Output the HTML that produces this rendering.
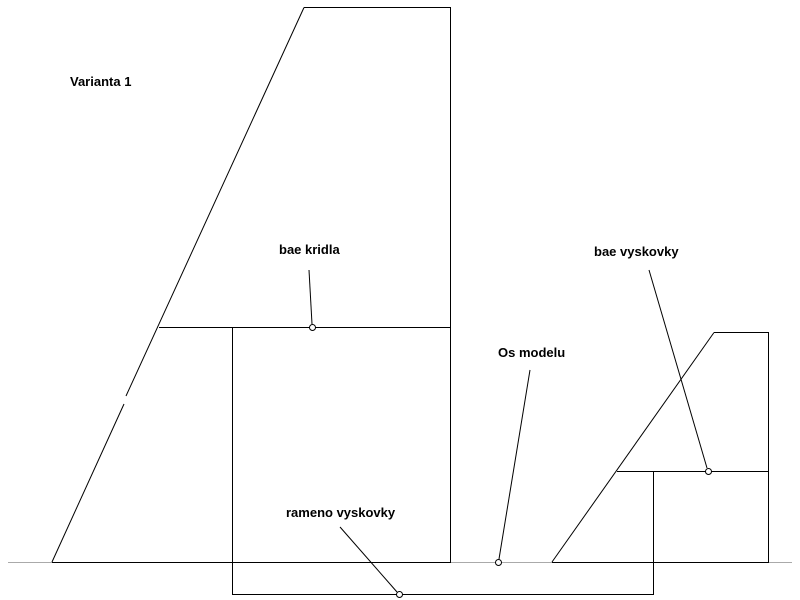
<!DOCTYPE html>
<html><head><style>
html,body{margin:0;padding:0;background:#fff;width:800px;height:600px;overflow:hidden}
text{font-family:"Liberation Sans",sans-serif;font-weight:bold;font-size:13px;fill:#000}
</style></head><body>
<svg width="800" height="600" xmlns="http://www.w3.org/2000/svg" shape-rendering="crispEdges">
<line x1="8" y1="562.5" x2="792" y2="562.5" stroke="#aaa"/>
<g stroke="#000" fill="none" stroke-width="1">
<polyline points="52,562.5 450.5,562.5 450.5,7.5 304,7.5" />
<line x1="304" y1="7.5" x2="126" y2="396" shape-rendering="auto"/>
<line x1="124" y1="404" x2="52" y2="562" shape-rendering="auto"/>
<line x1="159" y1="327.5" x2="450" y2="327.5"/>
<polyline points="232.5,327.5 232.5,594.5 653.5,594.5 653.5,471.5"/>
<polyline points="552,562.5 768.5,562.5 768.5,332.5 714,332.5"/>
<line x1="714" y1="332.5" x2="552" y2="562" shape-rendering="auto"/>
<line x1="617" y1="471.5" x2="768" y2="471.5"/>
<g shape-rendering="auto">
<line x1="309" y1="270" x2="312" y2="324"/>
<line x1="530" y1="370" x2="499" y2="559"/>
<line x1="649" y1="270" x2="707" y2="468"/>
<line x1="340" y1="527" x2="397" y2="592"/>
</g>
</g>
<g fill="#fff" stroke="#000" shape-rendering="auto">
<circle cx="312.5" cy="327.5" r="3"/>
<circle cx="498.5" cy="562.5" r="3"/>
<circle cx="708.5" cy="471.5" r="3"/>
<circle cx="399.5" cy="594.5" r="3"/>
</g>
<text x="70" y="86">Varianta 1</text>
<text x="279" y="254">bae kridla</text>
<text x="594" y="256">bae vyskovky</text>
<text x="498" y="357">Os modelu</text>
<text x="286" y="517">rameno vyskovky</text>
</svg>
</body></html>
